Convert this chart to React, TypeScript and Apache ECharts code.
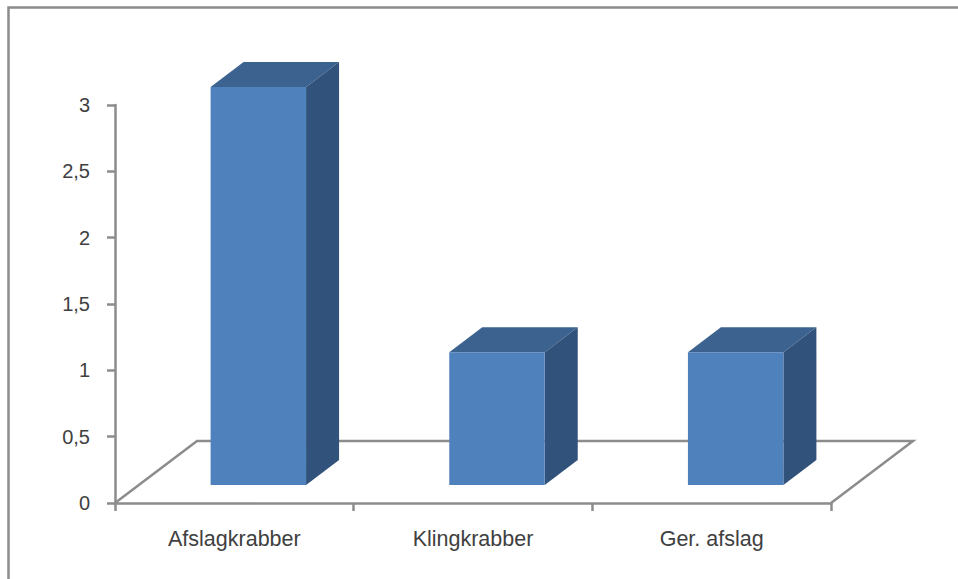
import React, { useEffect, useRef } from "react";
import * as echarts from "echarts";

const categories = ["Afslagkrabber", "Klingkrabber", "Ger. afslag"];
const values = [3, 1, 1];
const tickLabels: Record<string, string> = { "0": "0", "0.5": "0,5", "1": "1", "1.5": "1,5", "2": "2", "2.5": "2,5", "3": "3" };

const AXIS = "#8c8c8c";
const FRONT = "#4f81bd";
const TOP = "#3c6290";
const SIDE = "#31527a";
const TEXT = "#404040";
const FONT = "'Liberation Sans', Arial, sans-serif";

// perspective of the floor and of the bars, in pixels
const FLOOR_DX = 82;
const FLOOR_DY = 62;
const BAR_SHIFT_X = 24;
const BAR_SHIFT_Y = 18;
const BAR_DX = 33;
const BAR_DY = 25;
const BAR_W = 0.4;

export default function App() {
  const ref = useRef<HTMLDivElement>(null);
  useEffect(() => {
    const chart = echarts.init(ref.current!, null, { renderer: "svg" });
    chart.setOption({
      animation: false,
      backgroundColor: "#ffffff",
      grid: { left: 115, top: 105, width: 716, height: 398, containLabel: false },
      xAxis: {
        type: "category",
        data: categories,
        axisLine: { lineStyle: { color: AXIS, width: 2.5 } },
        axisTick: { show: true, length: 8, lineStyle: { color: AXIS, width: 2.5 } },
        axisLabel: { color: TEXT, fontFamily: FONT, fontSize: 21.5, margin: 25 },
      },
      yAxis: {
        type: "value",
        min: 0,
        max: 3,
        interval: 0.5,
        splitLine: { show: false },
        axisLine: { show: true, lineStyle: { color: AXIS, width: 2.5 } },
        axisTick: { show: true, length: 8, lineStyle: { color: AXIS, width: 2.5 } },
        axisLabel: {
          color: TEXT,
          fontFamily: FONT,
          fontSize: 20,
          margin: 25,
          formatter: (v: number) => tickLabels[String(v)] ?? String(v),
        },
      },
      series: [
        {
          type: "custom",
          silent: true,
          z: 1,
          data: [0],
          renderItem: (_p: any, api: any) => {
            const o = api.coord([0, 0]);
            const bandW = api.size([1, 0])[0];
            const x0 = o[0] - bandW / 2;
            const y0 = o[1];
            const x1 = x0 + bandW * categories.length;
            return {
              type: "polyline",
              shape: {
                points: [
                  [x0, y0],
                  [x0 + FLOOR_DX, y0 - FLOOR_DY],
                  [x1 + FLOOR_DX, y0 - FLOOR_DY],
                  [x1, y0],
                ],
              },
              style: { stroke: AXIS, lineWidth: 2.5, fill: "none" },
            };
          },
          encode: { x: 0, y: 0 },
        },
        {
          type: "custom",
          silent: true,
          z: 2,
          data: values.map((v, i) => [i, v]),
          encode: { x: 0, y: 1 },
          renderItem: (_p: any, api: any) => {
            const i = api.value(0);
            const v = api.value(1);
            const base = api.coord([i, 0]);
            const top = api.coord([i, v]);
            const w = api.size([1, 0])[0] * BAR_W;
            const l = base[0] + BAR_SHIFT_X - w / 2;
            const r = l + w;
            const b = base[1] - BAR_SHIFT_Y;
            const t = top[1] - BAR_SHIFT_Y;
            const poly = (points: number[][], fill: string) => ({
              type: "polygon",
              shape: { points },
              style: { fill },
            });
            return {
              type: "group",
              children: [
                poly([[l, t], [r, t], [r + BAR_DX, t - BAR_DY], [l + BAR_DX, t - BAR_DY]], TOP),
                poly([[r, t], [r + BAR_DX, t - BAR_DY], [r + BAR_DX, b - BAR_DY], [r, b]], SIDE),
                poly([[l, t], [r, t], [r, b], [l, b]], FRONT),
              ],
            };
          },
        },
      ],
      graphic: [
        {
          type: "polyline",
          silent: true,
          shape: { points: [[8.5, 579], [8.5, 7.5], [958, 7.5]] },
          style: { stroke: "#8c8c8c", lineWidth: 2.5, fill: "none" },
        },
      ],
    });
    return () => chart.dispose();
  }, []);
  return <div ref={ref} style={{ position: "absolute", left: 0, top: 0, width: 958, height: 579 }} />;
}
